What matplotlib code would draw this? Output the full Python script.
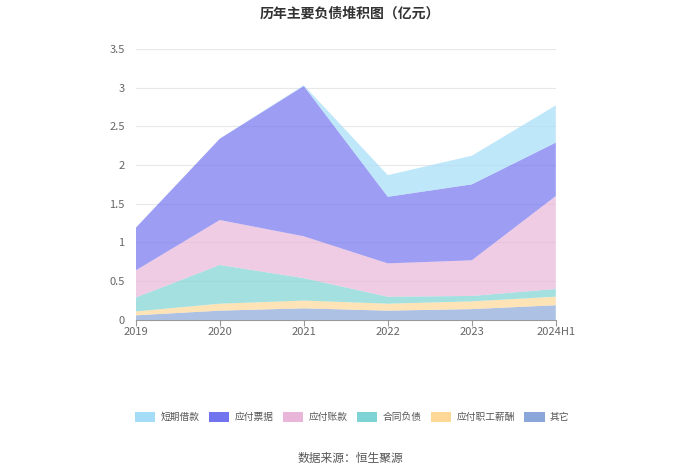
import matplotlib.pyplot as plt
from matplotlib.patches import Patch

plt.rcParams['font.family'] = ['Noto Sans CJK SC', 'DejaVu Sans']

# 年份和各项负债（亿元）
years = ['2019', '2020', '2021', '2022', '2023', '2024H1']
qita = [0.06, 0.12, 0.15, 0.12, 0.14, 0.19]
xinchou = [0.05, 0.09, 0.10, 0.09, 0.10, 0.11]
hetong = [0.18, 0.50, 0.29, 0.09, 0.07, 0.10]
zhangkuan = [0.35, 0.58, 0.54, 0.43, 0.46, 1.20]
piaoju = [0.55, 1.05, 1.94, 0.86, 0.98, 0.69]
duanqi = [0.00, 0.00, 0.01, 0.28, 0.37, 0.48]

names = ['其它', '应付职工薪酬', '合同负债', '应付账款', '应付票据', '短期借款']
colors = ['#8ba7da', '#fdd897', '#7ed4d4', '#e9b5d9', '#7274ef', '#a5ddf8']
series = [qita, xinchou, hetong, zhangkuan, piaoju, duanqi]

fig = plt.figure(figsize=(7, 4.74), dpi=100)
ax = fig.add_axes([0.194, 0.325, 0.6, 0.572])

x = list(range(len(years)))
ax.stackplot(x, *series, colors=colors, alpha=0.7, linewidth=0)

ax.set_xlim(0, len(years) - 1)
ax.set_ylim(0, 3.5)
ax.set_yticks([0, 0.5, 1, 1.5, 2, 2.5, 3, 3.5])
ax.set_yticklabels(['0', '0.5', '1', '1.5', '2', '2.5', '3', '3.5'])
ax.set_xticks(x)
ax.set_xticklabels(years)
ax.grid(axis='y', color='#e8e8e8', linewidth=0.8)
ax.set_axisbelow(True)
for s in ['top', 'right', 'left']:
    ax.spines[s].set_visible(False)
ax.spines['bottom'].set_color('#999999')
ax.tick_params(axis='y', length=0, labelsize=8, labelcolor='#666666', pad=8)
ax.tick_params(axis='x', length=4, color='#999999', labelsize=8, labelcolor='#666666', pad=1)

fig.text(0.5, 0.972, '历年主要负债堆积图（亿元）', ha='center', va='center',
         fontsize=10, fontweight='bold', color='#333333')

# 图例顺序与原图一致
order = [5, 4, 3, 2, 1, 0]
handles = [Patch(facecolor=colors[i], edgecolor='none') for i in order]
fig.legend(handles, [names[i] for i in order], loc='center', bbox_to_anchor=(0.503, 0.12),
           ncol=6, frameon=False, fontsize=7, handlelength=2.1, handleheight=1.2,
           columnspacing=1.0, handletextpad=0.5, labelcolor='#555555')

fig.text(0.5, 0.033, '数据来源：恒生聚源', ha='center', va='center', fontsize=8.5, color='#555555')

fig.savefig('out.png', dpi=100)
